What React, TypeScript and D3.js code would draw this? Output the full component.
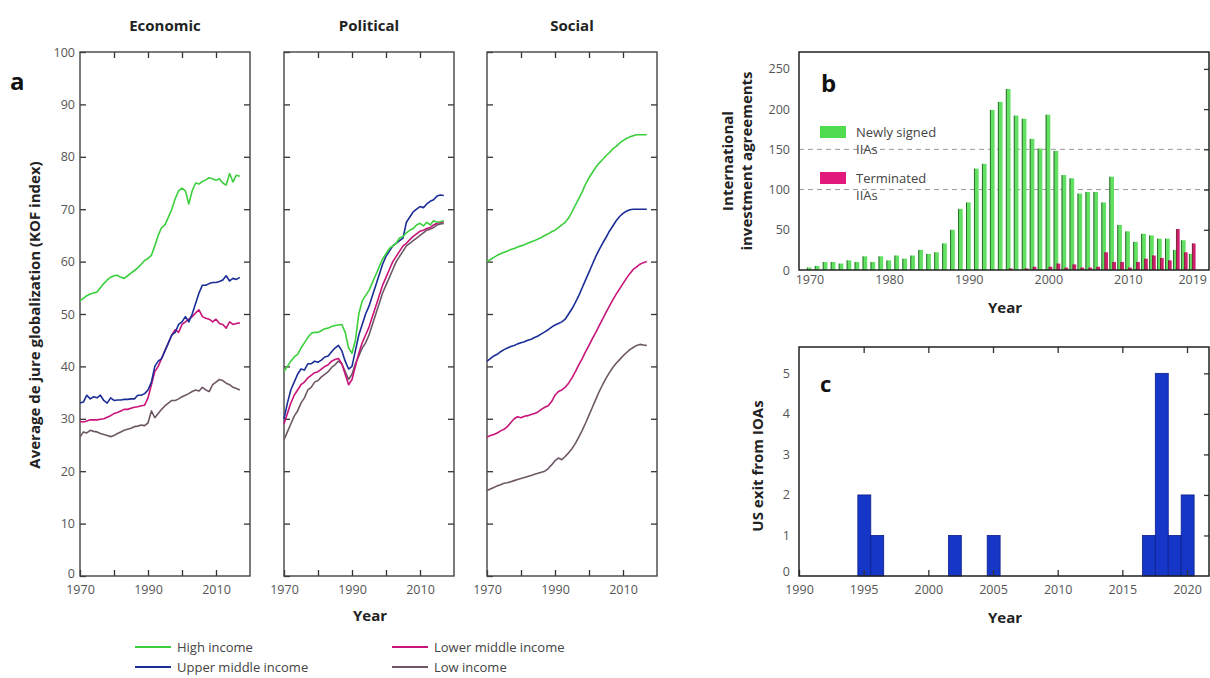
import * as d3 from "d3";
import React, { useEffect, useRef } from "react";

// panel a: KOF de jure globalization, yearly averages by income group
const kofYears = d3.range(1970, 2018);

const econHigh = [52.5, 53, 53.5, 53.8, 54, 54.2, 55, 55.8, 56.5, 57, 57.3, 57.4, 57, 56.8, 57.3, 57.8, 58.3, 58.8, 59.5, 60.2,
  60.6, 61.2, 63, 65, 66.5, 67, 68.5, 70, 72, 73.5, 74, 73.5, 71, 73.5, 75, 74.8, 75.3, 75.6, 76, 75.8,
  75.5, 75.8, 75, 74.6, 76.8, 75.2, 76.5, 76.3];
const econUpper = [33, 33.2, 34.5, 33.8, 34.2, 34, 34.5, 33.5, 33, 34, 33.5, 33.6, 33.6, 33.7, 33.7, 33.8, 33.8, 34.5, 34.5, 34.8,
  35.5, 37, 40, 41, 41.5, 43, 44.5, 46, 46.5, 48, 48.5, 49.5, 48.5, 50, 52, 54, 55.5, 55.5, 55.8, 56,
  56, 56.2, 56.5, 57.3, 56.3, 56.8, 56.6, 57];
const econLower = [29.5, 29.4, 29.6, 29.8, 29.8, 29.8, 29.9, 30, 30.3, 30.6, 31, 31.2, 31.5, 31.8, 31.8, 32, 32.2, 32.3, 32.5, 32.6,
  34, 36.5, 39, 40, 41.5, 43, 44.5, 46, 47, 46.5, 48, 48.5, 49, 49.5, 50.2, 50.8, 49.5, 49.2, 49, 48.5,
  49, 48.2, 48, 47.3, 48.5, 48, 48.2, 48.3];
const econLow = [26.5, 27.5, 27.3, 27.8, 27.6, 27.5, 27.2, 27, 26.8, 26.6, 26.8, 27.2, 27.5, 27.8, 28, 28.2, 28.5, 28.6, 28.8, 28.7,
  29.2, 31.5, 30.2, 31, 31.8, 32.5, 33, 33.5, 33.5, 33.8, 34.2, 34.5, 34.8, 35.2, 35.5, 35.3, 36, 35.5, 35.2, 36.5,
  37, 37.5, 37.3, 36.8, 36.5, 36, 35.8, 35.5];

const polHigh = [39, 40, 41, 41.8, 42.3, 43.5, 44.5, 45.5, 46.3, 46.5, 46.5, 46.8, 47.2, 47.3, 47.6, 47.8, 47.9, 48, 46.5, 43.5,
  42.5, 45, 50, 52.5, 53.5, 54.5, 56, 57.5, 59, 60.5, 61.5, 62.5, 63, 63.5, 64.5, 64.8, 65.5, 66, 66.3, 67,
  67.3, 66.8, 67.5, 67, 67.8, 67.5, 67.6, 67.8];
const polUpper = [30, 33, 35.5, 37, 38.5, 39.5, 39.3, 40.5, 40.5, 41, 40.8, 41.2, 41.8, 42, 42.8, 43.5, 44, 43, 41, 39.5,
  40, 43, 46, 48, 50, 51.5, 53.5, 55.5, 57.5, 59.5, 61, 62, 63, 63.5, 64, 64.5, 67.5, 68.5, 69.5, 70,
  70.5, 70.3, 71, 71.5, 71.8, 72.5, 72.7, 72.6];
const polLower = [29, 31, 33, 34.5, 35.5, 36.5, 37, 37.8, 38.3, 38.8, 39, 39.5, 40, 40.3, 41, 41.3, 41.5, 40.5, 38.5, 36.5,
  37.5, 40, 42.5, 44.5, 46, 47.5, 49.5, 51.5, 53.5, 55.5, 57, 58.5, 60, 61, 62, 63, 63.5, 64.2, 64.8, 65.3,
  65.8, 66, 66.3, 66.5, 67, 67.3, 67.5, 67.6];
const polLow = [26, 27.5, 29, 30.5, 31.5, 33, 34, 35.5, 36, 37, 37.3, 38, 38.5, 39, 39.8, 40.3, 41, 40.5, 39, 37.5,
  38.5, 40.5, 42, 43.5, 44.5, 46, 48, 50, 52, 54, 55.5, 57, 58.5, 60, 61, 62, 63, 63.5, 64, 64.5,
  65, 65.5, 66, 66.2, 66.5, 67, 67.2, 67.3];

const socHigh = [60, 60.4, 60.8, 61.2, 61.5, 61.8, 62, 62.3, 62.5, 62.8, 63, 63.2, 63.5, 63.8, 64, 64.3, 64.6, 65, 65.3, 65.7,
  66, 66.5, 67, 67.5, 68.3, 69.5, 70.8, 72, 73.3, 74.8, 76, 77, 78, 78.8, 79.5, 80.2, 80.8, 81.5, 82, 82.6,
  83.1, 83.5, 83.8, 84, 84.2, 84.2, 84.2, 84.2];
const socUpper = [41, 41.5, 42, 42.3, 42.8, 43.2, 43.5, 43.8, 44, 44.3, 44.5, 44.7, 45, 45.2, 45.5, 45.8, 46.2, 46.6, 47, 47.5,
  47.9, 48.2, 48.5, 49, 50, 51, 52.2, 53.5, 55, 56.5, 58, 59.5, 61, 62.3, 63.5, 64.6, 65.8, 66.8, 67.8, 68.6,
  69.2, 69.6, 69.9, 70, 70, 70, 70, 70];
const socLower = [26.5, 26.8, 27, 27.3, 27.7, 28, 28.5, 29.3, 30, 30.4, 30.2, 30.5, 30.6, 30.8, 31, 31.3, 31.8, 32.2, 32.5, 33.3,
  34.5, 35.2, 35.5, 36, 36.8, 37.8, 39, 40.3, 41.5, 42.8, 44, 45.3, 46.5, 47.8, 49, 50.3, 51.5, 52.7, 53.8, 54.8,
  55.8, 56.8, 57.7, 58.5, 59, 59.5, 59.8, 60];
const socLow = [16.3, 16.6, 16.9, 17.2, 17.4, 17.7, 17.8, 18, 18.2, 18.4, 18.6, 18.8, 19, 19.2, 19.4, 19.6, 19.8, 20, 20.5, 21.2,
  22, 22.5, 22.2, 22.8, 23.5, 24.3, 25.3, 26.5, 27.8, 29.2, 30.7, 32.2, 33.7, 35.2, 36.5, 37.7, 38.8, 39.8, 40.6, 41.3,
  42, 42.6, 43.2, 43.6, 44, 44.2, 44.1, 44];

const incomeGroups = ["High income", "Upper middle income", "Lower middle income", "Low income"];
const incomeColors = ["#3ccf3c", "#1b2d96", "#c8137a", "#6e5866"];

// panel b: international investment agreements
const iiaYears = d3.range(1970, 2020);
const iiaSigned = [3, 5, 10, 10, 8, 12, 10, 17, 10, 17,
  12, 18, 14, 18, 25, 20, 22, 33, 50, 76,
  84, 126, 132, 199, 209, 225, 192, 188, 163, 151,
  193, 148, 118, 114, 95, 97, 97, 84, 116, 56,
  48, 35, 45, 43, 39, 39, 25, 37, 20, 0];
const iiaTerminated = [0, 0, 0, 0, 0, 0, 0, 0, 0, 0,
  0, 0, 0, 0, 0, 0, 0, 0, 0, 0,
  0, 0, 0, 0, 0, 2, 0, 2, 4, 0,
  4, 8, 3, 7, 3, 3, 4, 22, 10, 10,
  3, 10, 14, 18, 15, 12, 51, 22, 33, 0];

// panel c: US exits from international organisations
const exitYears = [1995, 1996, 2002, 2005, 2017, 2018, 2019, 2020];
const exitCounts = [2, 1, 1, 1, 1, 5, 1, 2];

const FONT = "'Open Sans', 'DejaVu Sans', sans-serif";

function styleAxis(g, showLabels) {
  g.select(".domain").remove();
  g.selectAll(".tick line").attr("stroke", "#333").attr("stroke-width", 1.3);
  g.selectAll(".tick text")
    .attr("fill", "#555")
    .style("font-family", FONT)
    .style("font-size", "12.5px");
  if (!showLabels) g.selectAll(".tick text").remove();
}

export default function App() {
  const ref = useRef<SVGSVGElement>(null);

  useEffect(() => {
    const svg = d3.select(ref.current);
    svg.selectAll("*").remove();

    // ---------- panel a ----------
    const top = 52, bottom = 576, pw = 170;
    const panels = [
      { title: "Economic", left: 80, series: [econHigh, econUpper, econLower, econLow] },
      { title: "Political", left: 284, series: [polHigh, polUpper, polLower, polLow] },
      { title: "Social", left: 487, series: [socHigh, socUpper, socLower, socLow] },
    ];
    const y = d3.scaleLinear().domain([0, 100]).range([bottom, top]);

    panels.forEach((p, pi) => {
      const x = d3.scaleLinear().domain([1970, 2020]).range([p.left, p.left + pw]);
      const g = svg.append("g");

      g.append("text")
        .attr("x", p.left + pw / 2).attr("y", 31)
        .attr("text-anchor", "middle")
        .style("font-family", FONT).style("font-weight", 700).style("font-size", "15px")
        .attr("fill", "#222")
        .text(p.title);

      g.append("g").attr("transform", `translate(${p.left},0)`)
        .call(d3.axisLeft(y).tickValues(d3.range(0, 101, 10)).tickSize(-6).tickPadding(5))
        .call(s => styleAxis(s, pi === 0))
        .call(s => s.selectAll(".tick text").filter(d => d === 0).attr("dy", "0.1em"));
      g.append("g").attr("transform", `translate(${p.left + pw},0)`)
        .call(d3.axisRight(y).tickValues(d3.range(10, 100, 10)).tickSize(-6))
        .call(s => styleAxis(s, false));
      g.append("g").attr("transform", `translate(0,${bottom})`)
        .call(d3.axisBottom(x).tickValues([1970, 1980, 1990, 2000, 2010]).tickSize(-6).tickPadding(9)
          .tickFormat(d => (d % 20 === 10 ? String(d) : "")))
        .call(s => styleAxis(s, true));
      g.append("g").attr("transform", `translate(0,${top})`)
        .call(d3.axisTop(x).tickValues([1980, 1990, 2000, 2010]).tickSize(-6))
        .call(s => styleAxis(s, false));

      g.append("rect")
        .attr("x", p.left).attr("y", top).attr("width", pw).attr("height", bottom - top)
        .attr("fill", "none").attr("stroke", "#444").attr("stroke-width", 1.4);

      const line = d3.line<number>().x((d, i) => x(kofYears[i])).y(d => y(d));
      [3, 2, 1, 0].forEach(k => {
        g.append("path")
          .datum(p.series[k])
          .attr("d", line)
          .attr("fill", "none")
          .attr("stroke", incomeColors[k])
          .attr("stroke-width", 1.6)
          .attr("stroke-linejoin", "round");
      });
    });

    svg.append("text")
      .attr("x", 10).attr("y", 90)
      .style("font-family", FONT).style("font-weight", 700).style("font-size", "24px")
      .attr("fill", "#111").text("a");

    svg.append("text")
      .attr("transform", "translate(40,315) rotate(-90)")
      .attr("text-anchor", "middle")
      .style("font-family", FONT).style("font-weight", 700).style("font-size", "15px")
      .attr("fill", "#222")
      .text("Average de jure globalization (KOF index)");

    svg.append("text")
      .attr("x", 370).attr("y", 621).attr("text-anchor", "middle")
      .style("font-family", FONT).style("font-weight", 700).style("font-size", "15px")
      .attr("fill", "#222").text("Year");

    const legend = svg.append("g");
    incomeGroups.forEach((name, i) => {
      const col = i === 0 || i === 1 ? 0 : 1;
      const row = i === 0 || i === 2 ? 0 : 1;
      const lx = col === 0 ? 135 : 392;
      const ly = row === 0 ? 647 : 667;
      legend.append("line")
        .attr("x1", lx).attr("x2", lx + 36).attr("y1", ly).attr("y2", ly)
        .attr("stroke", incomeColors[i]).attr("stroke-width", 1.8);
      legend.append("text")
        .attr("x", lx + 42).attr("y", ly + 4.5)
        .style("font-family", FONT).style("font-size", "13px")
        .attr("fill", "#444").text(name);
    });

    // ---------- panel b ----------
    const bL = 799, bR = 1209, bT = 52, bB = 270;
    const xb = d3.scaleBand<number>().domain(iiaYears).range([806, 1204]);
    const yb = d3.scaleLinear().domain([0, 271]).range([bB, bT]);
    const gb = svg.append("g");

    [100, 150].forEach(v => {
      gb.append("line")
        .attr("x1", bL).attr("x2", bR).attr("y1", yb(v)).attr("y2", yb(v))
        .attr("stroke", "#999").attr("stroke-width", 1).attr("stroke-dasharray", "5,4");
    });

    iiaYears.forEach((yr, i) => {
      const x0 = xb(yr);
      if (iiaSigned[i] > 0) {
        gb.append("rect")
          .attr("x", x0 + 1).attr("y", yb(iiaSigned[i])).attr("width", 4.5)
          .attr("height", bB - yb(iiaSigned[i])).attr("fill", "#62e062");
        gb.append("line")
          .attr("x1", x0 + 1.3).attr("x2", x0 + 1.3).attr("y1", yb(iiaSigned[i])).attr("y2", bB)
          .attr("stroke", "#2e6b2e").attr("stroke-width", 1);
      }
      if (iiaTerminated[i] > 0) {
        gb.append("rect")
          .attr("x", x0 + 4).attr("y", yb(iiaTerminated[i])).attr("width", 3.5)
          .attr("height", bB - yb(iiaTerminated[i])).attr("fill", "#d01e6e");
        gb.append("line")
          .attr("x1", x0 + 4.3).attr("x2", x0 + 4.3).attr("y1", yb(iiaTerminated[i])).attr("y2", bB)
          .attr("stroke", "#7a2a3a").attr("stroke-width", 1);
      }
    });

    gb.append("g").attr("transform", `translate(${bL},0)`)
      .call(d3.axisLeft(yb).tickValues([0, 50, 100, 150, 200, 250]).tickSize(0).tickPadding(9))
      .call(s => styleAxis(s, true));
    gb.append("g").attr("transform", `translate(${bR},0)`)
      .call(d3.axisRight(yb).tickValues([50, 100, 150, 200, 250]).tickSize(-5))
      .call(s => styleAxis(s, false));
    gb.append("g").attr("transform", `translate(0,${bB})`)
      .call(d3.axisBottom(xb).tickValues([1970, 1980, 1990, 2000, 2010, 2019]).tickSize(0).tickPadding(5))
      .call(s => styleAxis(s, true))
      .call(s => s.selectAll(".tick text").filter(d => d === 2019).attr("text-anchor", "end").attr("dx", "7px"));

    gb.append("path")
      .attr("d", `M${bL},${bB}V${bT}H${bR}V${bB}Z`)
      .attr("fill", "none").attr("stroke", "#222").attr("stroke-width", 1.5);

    gb.append("text")
      .attr("x", 821).attr("y", 92)
      .style("font-family", FONT).style("font-weight", 700).style("font-size", "24px")
      .attr("fill", "#111").text("b");

    const legB = [
      { color: "#4fdc4f", y: 126, lines: ["Newly signed", "IIAs"] },
      { color: "#e0197a", y: 172, lines: ["Terminated", "IIAs"] },
    ];
    legB.forEach(l => {
      gb.append("rect").attr("x", 820).attr("y", l.y).attr("width", 26).attr("height", 12).attr("fill", l.color);
      l.lines.forEach((t, j) => {
        gb.append("text")
          .attr("x", 856).attr("y", l.y + 11 + j * 17)
          .style("font-family", FONT).style("font-size", "13px")
          .attr("fill", "#444").text(t);
      });
    });

    const ylb = gb.append("text")
      .attr("transform", "translate(0,161) rotate(-90)")
      .attr("text-anchor", "middle")
      .style("font-family", FONT).style("font-weight", 700).style("font-size", "15px")
      .attr("fill", "#222");
    ylb.append("tspan").attr("x", 0).attr("y", 733).text("International");
    ylb.append("tspan").attr("x", 0).attr("y", 752).text("investment agreements");

    gb.append("text")
      .attr("x", 1005).attr("y", 313).attr("text-anchor", "middle")
      .style("font-family", FONT).style("font-weight", 700).style("font-size", "15px")
      .attr("fill", "#222").text("Year");

    // ---------- panel c ----------
    const cL = 799, cR = 1209, cT = 347, cB = 576;
    const xc = d3.scaleLinear().domain([1990, 2021.7]).range([cL, cR]);
    const yc = d3.scaleLinear().domain([0, 5.65]).range([cB, cT]);
    const gc = svg.append("g");

    gc.selectAll("rect.bar")
      .data(exitYears)
      .enter().append("rect")
      .attr("class", "bar")
      .attr("x", d => xc(d - 0.45))
      .attr("y", (d, i) => yc(exitCounts[i]))
      .attr("width", d => xc(d + 0.55) - xc(d - 0.45))
      .attr("height", (d, i) => cB - yc(exitCounts[i]))
      .attr("fill", "#1636c8")
      .attr("stroke", "#0d1f8a")
      .attr("stroke-width", 0.8);

    gc.append("g").attr("transform", `translate(${cL},0)`)
      .call(d3.axisLeft(yc).tickValues([0, 1, 2, 3, 4, 5]).tickSize(0).tickPadding(9).tickFormat(d3.format("d")))
      .call(s => styleAxis(s, true))
      .call(s => s.selectAll(".tick text").filter(d => d === 0).attr("dy", "-0.05em"));
    gc.append("g").attr("transform", `translate(${cR},0)`)
      .call(d3.axisRight(yc).tickValues([1, 2, 3, 4, 5]).tickSize(-5))
      .call(s => styleAxis(s, false));
    gc.append("g").attr("transform", `translate(0,${cB})`)
      .call(d3.axisBottom(xc).tickValues([1990, 1995, 2000, 2005, 2010, 2015, 2020]).tickSize(-6).tickPadding(9)
        .tickFormat(d3.format("d")))
      .call(s => styleAxis(s, true));
    gc.append("g").attr("transform", `translate(0,${cT})`)
      .call(d3.axisTop(xc).tickValues([1995, 2000, 2005, 2010, 2015, 2020]).tickSize(-6))
      .call(s => styleAxis(s, false));

    gc.append("path")
      .attr("d", `M${cL},${cB}V${cT}H${cR}V${cB}Z`)
      .attr("fill", "none").attr("stroke", "#222").attr("stroke-width", 1.5);

    gc.append("text")
      .attr("x", 820).attr("y", 392)
      .style("font-family", FONT).style("font-weight", 700).style("font-size", "22px")
      .attr("fill", "#111").text("c");

    gc.append("text")
      .attr("transform", "translate(763,466) rotate(-90)")
      .attr("text-anchor", "middle")
      .style("font-family", FONT).style("font-weight", 700).style("font-size", "15px")
      .attr("fill", "#222").text("US exit from IOAs");

    gc.append("text")
      .attr("x", 1005).attr("y", 623).attr("text-anchor", "middle")
      .style("font-family", FONT).style("font-weight", 700).style("font-size", "15px")
      .attr("fill", "#222").text("Year");
  }, []);

  return (
    <svg
      ref={ref}
      width={1210}
      height={678}
      style={{ position: "absolute", left: 0, top: 0, background: "#fff" }}
    />
  );
}
